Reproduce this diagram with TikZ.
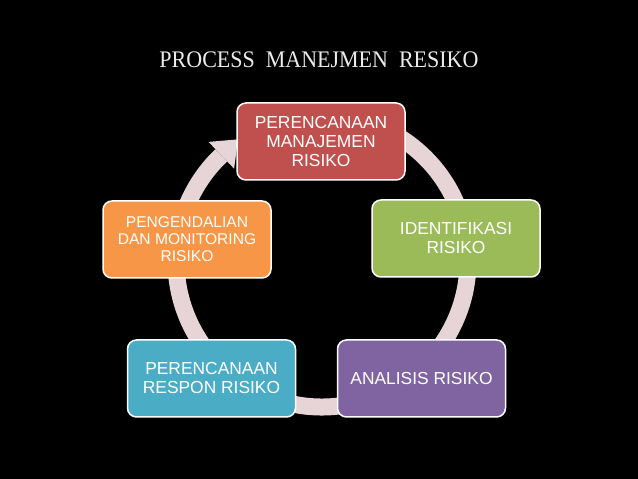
\documentclass[tikz,border=0pt]{standalone}
\usepackage{fontspec}
\setmainfont{Liberation Serif}
\newfontfamily\boxfont{Liberation Sans}
\usetikzlibrary{calc}
\definecolor{ringc}{RGB}{230,212,214}
\definecolor{redc}{RGB}{192,80,77}
\definecolor{greenc}{RGB}{155,187,89}
\definecolor{purplec}{RGB}{128,100,162}
\definecolor{bluec}{RGB}{75,172,198}
\definecolor{orangec}{RGB}{247,150,70}
\definecolor{titlec}{RGB}{235,235,235}
\begin{document}
\begin{tikzpicture}[x=1pt,y=1pt,
  stagebox/.style={draw=white, line width=1.5pt, rounded corners=9pt,
    minimum width=168pt, minimum height=77pt, inner sep=0pt, text=white,
    align=center, font=\boxfont\fontsize{17.4}{19}\selectfont},
  ringline/.style={draw=ringc, line width=17pt},
]
\fill[black] (0,0) rectangle (638,479);
\useasboundingbox (0,0) rectangle (638,479);
\coordinate (C) at (322,218);
% cycle ring with arrowhead
\draw[ringline] ($(C)+(100:146)$) arc[start angle=100, end angle=-226.4, radius=146];
\fill[ringc] ($(C)+(133.6:127.5)$) -- ($(C)+(133.6:164.5)$) -- ($(C)+(133.6:146)+(43.6:23)$) -- cycle;
% stages
\node[stagebox, fill=redc] (plan) at (321,337.5) {PERENCANAAN\\MANAJEMEN\\RISIKO};
\node[stagebox, fill=greenc] (ident) at (456,240.5) {IDENTIFIKASI\\RISIKO};
\node[stagebox, fill=purplec] (anal) at (421.5,100.5) {ANALISIS RISIKO};
\node[stagebox, fill=bluec] (resp) at (211.5,100.5) {PERENCANAAN\\RESPON RISIKO};
\node[stagebox, fill=orangec, font=\boxfont\fontsize{15.6}{17}\selectfont] (ctrl) at (187,239.5) {PENGENDALIAN\\DAN MONITORING\\RISIKO};
% title
\node[anchor=base, text=titlec, inner sep=0pt, yscale=1.08, font=\fontsize{22}{27}\selectfont] (title) at (319,411) {PROCESS\ \ MANEJMEN\ \ RESIKO};
\end{tikzpicture}
\end{document}
